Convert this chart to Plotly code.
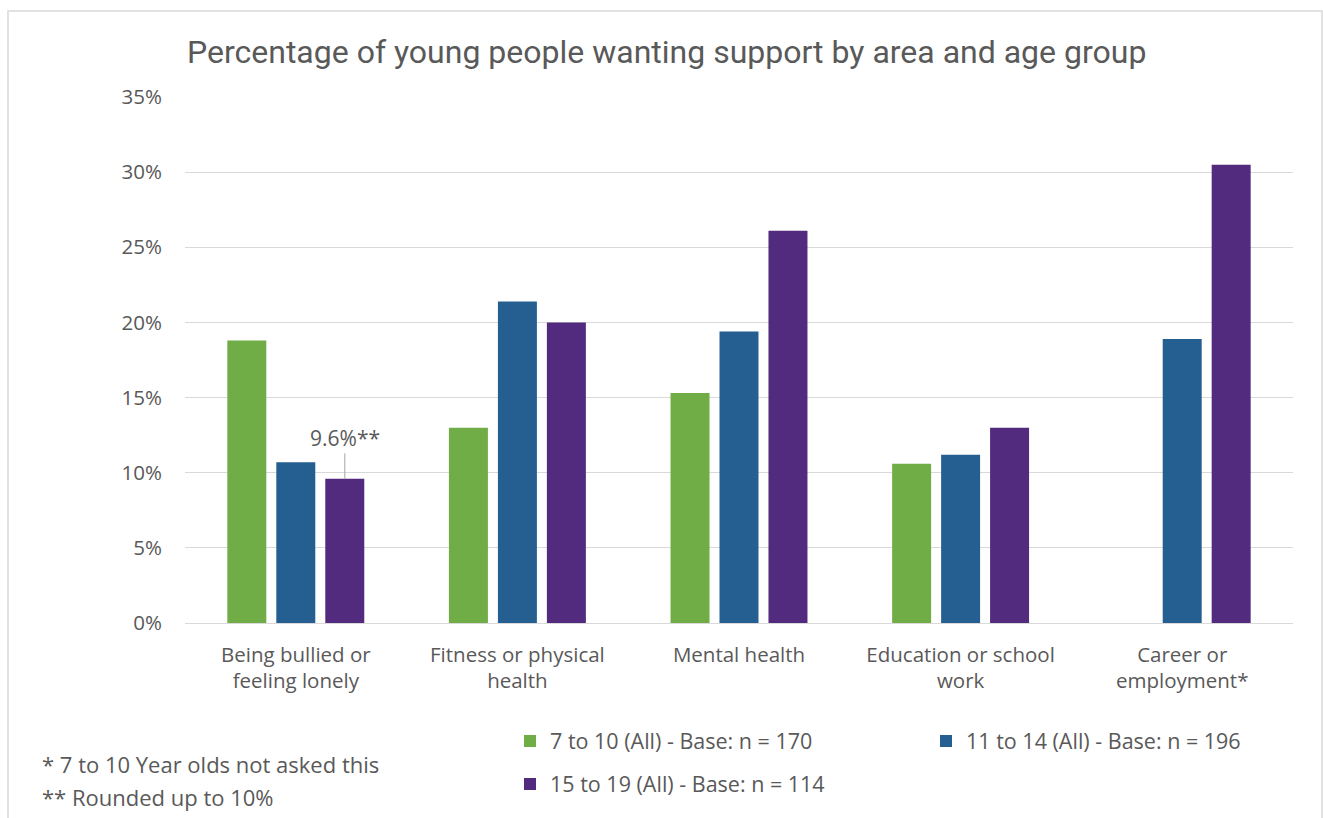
import plotly.graph_objects as go

# Support areas (x categories), shown with line breaks as on the axis
areas = [
    "Being bullied or<br>feeling lonely",
    "Fitness or physical<br>health",
    "Mental health",
    "Education or school<br>work",
    "Career or<br>employment*",
]

# Percentage wanting support, by age group
age_7_10 = [18.8, 13.0, 15.3, 10.6, None]   # 7-10 year olds were not asked about careers
age_11_14 = [10.7, 21.4, 19.4, 11.2, 18.9]
age_15_19 = [9.6, 20.0, 26.1, 13.0, 30.5]

series_names = [
    "7 to 10 (All) - Base: n = 170",
    "11 to 14 (All) - Base: n = 196",
    "15 to 19 (All) - Base: n = 114",
]
series_colors = ["#70AD47", "#255E91", "#522A7E"]

y_ticks = [0, 5, 10, 15, 20, 25, 30, 35]
y_tick_text = [f"{v}%" for v in y_ticks]

text_grey = "#595959"
grid_grey = "#D9D9D9"
body_font = "Open Sans"

W, H = 1323, 818
ml, mr, mt, mb = 185, 30, 97, 195
pw, ph = W - ml - mr, H - mt - mb


def px_x(p):
    return (p - ml) / pw


def px_y(p):
    return (H - mb - p) / ph


# Each series gets its own legend box so the entries sit in a 2-column grid
legend_ids = ["legend", "legend2", "legend3"]
legend_pos = [(510, 741), (926, 741), (510, 784)]

fig = go.Figure()
for name, vals, color, leg in zip(
    series_names, [age_7_10, age_11_14, age_15_19], series_colors, legend_ids
):
    fig.add_trace(go.Bar(
        x=areas, y=vals, name=name,
        marker=dict(color=color, line=dict(width=0)),
        legend=leg, showlegend=True,
    ))

# Callout on the 15-19 "bullied" bar
fig.add_annotation(
    x=areas[0], y=age_15_19[0], xref="x", yref="y",
    text=f"{age_15_19[0]}%**", showarrow=True, arrowhead=0,
    arrowcolor="#A6A6A6", arrowwidth=1,
    ax=0, ay=-41, xshift=49, startstandoff=0, standoff=0,
    font=dict(family=body_font, size=21, color=text_grey),
)

# Footnotes
footnotes = ["* 7 to 10 Year olds not asked this", "** Rounded up to 10%"]
for i, note in enumerate(footnotes):
    fig.add_annotation(
        x=px_x(40), y=px_y(764 + 33 * i), xref="paper", yref="paper",
        text=note, showarrow=False, xanchor="left", yanchor="middle",
        font=dict(family=body_font, size=22, color=text_grey),
    )

legend_layout = {}
for leg, (lx, ly) in zip(legend_ids, legend_pos):
    legend_layout[leg] = dict(
        orientation="h", x=px_x(lx), xanchor="left",
        y=px_y(ly), yanchor="middle",
        font=dict(family=body_font, size=21.5, color=text_grey),
        bgcolor="rgba(0,0,0,0)",
    )

fig.update_layout(
    width=W, height=H,
    margin=dict(l=ml, r=mr, t=mt, b=mb, autoexpand=False),
    paper_bgcolor="white", plot_bgcolor="white",
    showlegend=True,
    barmode="group", bargap=0.337, bargroupgap=0.204,
    title=dict(
        text="Percentage of young people wanting support by area and age group",
        x=187 / W, xref="container", xanchor="left",
        y=1 - 52 / H, yref="container", yanchor="middle",
        font=dict(family="Roboto", size=32, color=text_grey),
    ),
    font=dict(family=body_font, color=text_grey),
    shapes=[dict(
        type="rect", xref="paper", yref="paper",
        x0=px_x(8), x1=px_x(1322),
        y0=px_y(830), y1=px_y(11),
        line=dict(color="#D9D9D9", width=1.5), fillcolor="rgba(0,0,0,0)",
        layer="below",
    )],
    **legend_layout,
)

fig.update_xaxes(
    showgrid=False, showline=False, zeroline=False, ticks="",
    tickfont=dict(family=body_font, size=20.5, color=text_grey),
    ticklabelstandoff=17,
)
fig.update_yaxes(
    range=[0, 35], tickvals=y_ticks, ticktext=y_tick_text,
    showgrid=True, gridcolor=grid_grey, gridwidth=1.3,
    zeroline=True, zerolinecolor=grid_grey, zerolinewidth=1.3,
    showline=False, ticks="",
    tickfont=dict(family=body_font, size=20.5, color=text_grey),
    ticklabelstandoff=22,
)

fig.write_html("out.html")
